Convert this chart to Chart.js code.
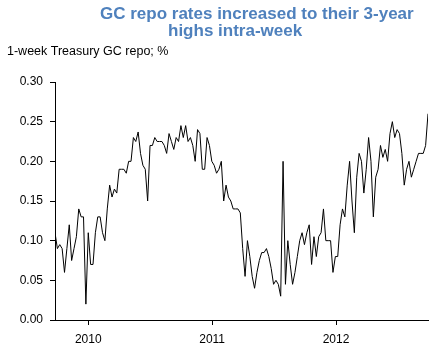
<!DOCTYPE html>
<html>
<head>
<meta charset="utf-8">
<script src="https://cdn.jsdelivr.net/npm/chart.js@4.4.0/dist/chart.umd.min.js"></script>
<style>
html, body { margin: 0; padding: 0; background: #fff; }
#wrap { width: 435px; height: 362px; position: relative; }
</style>
</head>
<body>
<div id="wrap"><canvas id="repoChart" width="435" height="362"></canvas></div>
<script>
// weekly observations, first one on startDate
var startDate = '2009-09-25';
var titleLines = ['GC repo rates increased to their 3-year', 'highs intra-week'];
var axisLabel = '1-week Treasury GC repo; %';
var yearTicks = [2010, 2011, 2012];

var rates2009 = [0.11, 0.09, 0.095, 0.09, 0.06, 0.09, 0.12, 0.075, 0.09, 0.105, 0.14, 0.13, 0.13, 0.02];
var rates2010 = [0.11, 0.07, 0.07, 0.11, 0.13, 0.13,
    0.11, 0.10, 0.14, 0.17, 0.155, 0.165, 0.16, 0.19, 0.19, 0.19,
    0.185, 0.20, 0.20, 0.23, 0.225, 0.237, 0.21, 0.195, 0.19, 0.15,
    0.22, 0.22, 0.23, 0.225, 0.225, 0.225, 0.22, 0.21, 0.235, 0.225,
    0.215, 0.23, 0.225, 0.245, 0.23, 0.245, 0.225, 0.23, 0.22, 0.20,
    0.24, 0.235, 0.19, 0.19, 0.23, 0.22, 0.20];
var rates2011 = [0.195, 0.185, 0.19,
    0.20, 0.15, 0.17, 0.155, 0.15, 0.14, 0.14, 0.14, 0.135, 0.09,
    0.055, 0.10, 0.08, 0.055, 0.04, 0.06, 0.075, 0.085, 0.085, 0.09,
    0.08, 0.065, 0.045, 0.05, 0.045, 0.03, 0.20, 0.045, 0.10, 0.07,
    0.045, 0.06, 0.08, 0.10, 0.11, 0.095, 0.11, 0.12, 0.07, 0.105,
    0.08, 0.105, 0.11, 0.14, 0.10, 0.10, 0.10, 0.06, 0.08];
var rates2012 = [0.08,
    0.12, 0.14, 0.13, 0.17, 0.20, 0.15, 0.11, 0.18, 0.21, 0.20,
    0.16, 0.19, 0.23, 0.20, 0.13, 0.18, 0.19, 0.22, 0.205, 0.215,
    0.20, 0.235, 0.25, 0.23, 0.24, 0.235, 0.21, 0.17, 0.19, 0.20,
    0.18, 0.19, 0.20, 0.21, 0.21, 0.21, 0.22, 0.26];

var rates = rates2009.concat(rates2010, rates2011, rates2012);
var t0 = Date.parse(startDate + 'T00:00:00Z');
var weekMs = 7 * 86400000;
var points = rates.map(function (v, i) {
    return { x: t0 + i * weekMs, y: v };
});

var fontFamily = '"Liberation Sans", Arial, sans-serif';

var textPlugin = {
    id: 'texts',
    afterDraw: function (chart) {
        var ctx = chart.ctx;
        ctx.save();
        ctx.textBaseline = 'alphabetic';
        ctx.textAlign = 'left';
        ctx.fillStyle = '#4F81BD';
        ctx.font = 'bold 17px ' + fontFamily;
        ctx.fillText(titleLines[0], 100, 19);
        ctx.fillText(titleLines[1], 168, 36);
        ctx.fillStyle = '#000';
        ctx.font = '12.5px ' + fontFamily;
        ctx.fillText(axisLabel, 7, 55);
        ctx.restore();
    }
};

var ctx = document.getElementById('repoChart').getContext('2d');
var repoChart = new Chart(ctx, {
    type: 'line',
    data: {
        datasets: [{
            data: points,
            borderColor: '#000',
            borderWidth: 1,
            pointRadius: 0,
            tension: 0,
            fill: false
        }]
    },
    options: {
        responsive: false,
        animation: false,
        devicePixelRatio: 1,
        layout: { padding: { top: 82, right: 7, left: 0, bottom: 0 } },
        plugins: {
            legend: { display: false },
            tooltip: { enabled: false },
            title: { display: false }
        },
        scales: {
            x: {
                type: 'linear',
                min: points[0].x,
                max: points[points.length - 1].x,
                afterBuildTicks: function (scale) {
                    scale.ticks = yearTicks.map(function (y) {
                        return { value: Date.UTC(y, 0, 1) };
                    });
                },
                afterFit: function (scale) { scale.height = 42; },
                ticks: {
                    callback: function (v) { return new Date(v).getUTCFullYear(); },
                    color: '#000',
                    font: { family: fontFamily, size: 12 },
                    padding: 7,
                    maxRotation: 0,
                    autoSkip: false
                },
                grid: { drawOnChartArea: false, tickLength: 5, color: '#000' },
                border: { color: '#000', width: 1 }
            },
            y: {
                min: 0,
                max: 0.3,
                afterFit: function (scale) { scale.width = 55; },
                ticks: {
                    stepSize: 0.05,
                    callback: function (v) { return v.toFixed(2); },
                    color: '#000',
                    font: { family: fontFamily, size: 12 },
                    padding: 7
                },
                grid: { drawOnChartArea: false, tickLength: 5, color: '#000' },
                border: { color: '#000', width: 1 }
            }
        }
    },
    plugins: [textPlugin]
});
</script>
</body>
</html>
